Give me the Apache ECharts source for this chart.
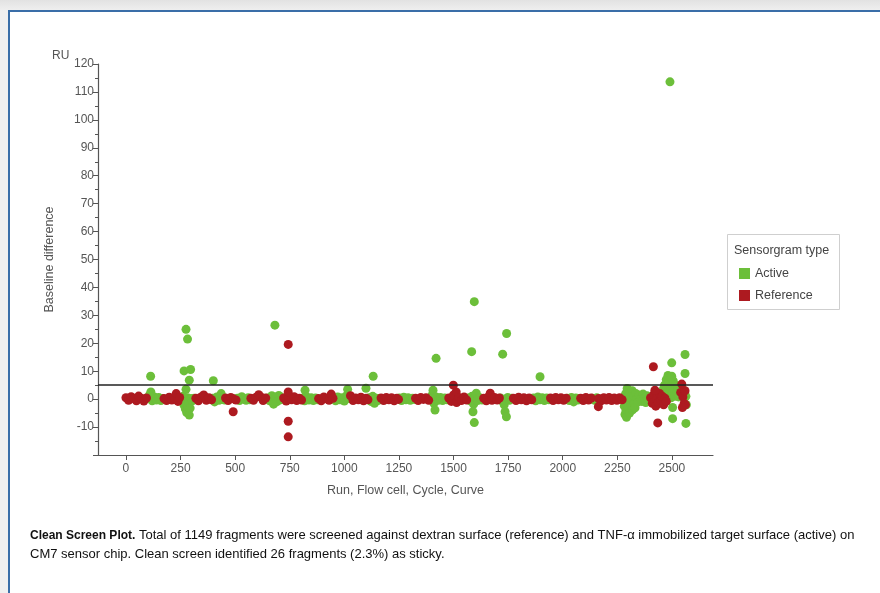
<!DOCTYPE html>
<html>
<head>
<meta charset="utf-8">
<title>Clean Screen Plot</title>
<script src="https://cdn.jsdelivr.net/npm/echarts@6/dist/echarts.min.js"></script>
<style>
  html, body { margin: 0; padding: 0; }
  body {
    width: 880px; height: 593px; overflow: hidden; position: relative;
    background: linear-gradient(180deg, #e2e2e2 0px, #f0f0f0 11px, #f0f0f0 100%);
  }
  #frame {
    position: absolute; left: 8px; top: 10px; width: 900px; height: 620px;
    background: #fff; border: 2px solid #3a6ea8;
  }
  #chart { position: absolute; left: 0; top: 0; width: 880px; height: 593px; }
</style>
</head>
<body>
<div id="frame"></div>
<div id="chart"></div>
<script>
// series names
const seriesNames = ["Active", "Reference"];

// x axis tick values (Run, Flow cell, Cycle, Curve)
const xTicks = [0, 250, 500, 750, 1000, 1250, 1500, 1750, 2000, 2250, 2500];

// threshold line (RU)
const thresholdValue = 5;

// Active flow cell: baseline band around 0
const activeBand = [
  [98, 0.4], [108, 1.5], [114, 2.6], [120, -0.6], [130, 0.8], [140, -0.3], [150, 0.6], [160, -0.5], [168, 0.2],
  [250, 0.5], [258, -0.8], [262, 1.0], [266, -2.2], [270, 0.3], [272, -3.5], [276, -1.5], [278, -4.8], [282, 0.5],
  [284, -2.8], [288, -1.0], [290, -5.7], [294, -3.2], [298, 0.2], [304, -0.6], [312, 0.3],
  [396, 0.3], [406, -1.0], [416, 0.8], [426, -0.4], [436, 2.0], [444, 0.5], [452, -0.3],
  [510, 0.3], [520, -0.5], [530, 0.9], [540, 0.1], [550, -0.4], [560, 0.5], [566, -0.2],
  [648, 0.4], [658, -0.6], [668, 1.2], [676, -1.8], [684, 0.7], [692, -0.9], [700, 1.3], [708, -0.2], [716, 0.5],
  [808, 0.3], [818, -0.6], [820, 3.2], [828, 0.8], [838, -0.3], [848, 0.5], [858, -0.5], [868, 0.4], [876, -0.2],
  [950, 0.4], [960, -0.6], [970, 0.8], [980, -0.2], [990, 0.5], [1000, -0.7], [1010, 1.2], [1015, 3.5], [1022, 0.2],
  [1114, 0.5], [1122, -0.8], [1130, 1.0], [1138, -1.5], [1146, 0.3], [1154, -0.5], [1162, 0.2],
  [1252, 0.4], [1262, -0.5], [1272, 0.7], [1282, -0.2], [1292, 0.5], [1302, -0.4], [1312, 0.3], [1320, -0.1],
  [1394, 0.3], [1402, 1.5], [1406, 3.2], [1410, -1.5], [1415, -3.9], [1420, 0.8], [1430, -0.4], [1440, 0.6],
  [1450, -0.5], [1460, 0.4], [1470, -0.2],
  [1567, 0.4], [1576, -0.6], [1584, 1.0], [1589, -4.5], [1592, -1.8], [1598, 0.6], [1604, 2.1], [1610, -0.5],
  [1620, 0.5], [1630, -0.3],
  [1715, 0.4], [1724, -0.7], [1732, -2.0], [1736, -4.5], [1742, -6.3], [1748, 0.6], [1756, -0.4], [1766, 0.3],
  [1866, 0.4], [1876, -0.6], [1886, 0.8], [1896, -0.2], [1906, 0.5], [1916, -0.5], [1926, 0.4], [1936, -0.2],
  [2021, 0.3], [2030, -0.5], [2040, 0.6], [2050, -1.0], [2060, 0.4], [2070, -0.3], [2077, 0.2],
  [2136, 0.3], [2146, -0.4], [2156, 0.5],
  [2278, 0.5], [2282, -2.5], [2285, -5.5], [2288, 2.0], [2290, -4.0], [2292, -6.5], [2295, 3.8], [2298, -1.0],
  [2300, -3.0], [2303, 1.2], [2306, -5.0], [2308, 2.6], [2312, -2.0], [2315, 0.0], [2318, 3.0], [2320, -3.8],
  [2325, 1.0], [2328, -1.5], [2331, -3.1], [2335, 2.0], [2340, 0.2], [2345, -1.0], [2350, 1.5], [2356, 0.0],
  [2362, -0.8], [2368, 1.8], [2374, 0.3], [2380, -1.2], [2386, 1.2], [2392, -0.3], [2398, 0.8], [2404, -0.6],
  [2456, 1.5], [2460, 3.5], [2464, 0.5], [2466, 5.0], [2470, 2.0], [2474, 7.0], [2476, -0.5], [2478, 4.0],
  [2482, 8.5], [2484, 1.5], [2488, 6.0], [2490, 3.0], [2494, 8.0], [2496, 0.5], [2500, 5.0], [2502, 2.0],
  [2506, 6.5], [2510, 3.5], [2514, 1.0], [2518, 5.0], [2522, 2.5], [2526, 4.0], [2530, 0.8], [2535, 3.0],
  [2540, 1.5], [2546, 4.0], [2552, 0.5], [2558, 2.5], [2564, 1.0], [2566, -2.0]
];

// Active flow cell: sticky / outlying responses
const activeOutliers = [
  [113, 8.2], [275, 25.0], [282, 21.5], [266, 10.1], [296, 10.6], [290, 6.8], [275, 3.5], [400, 6.6],
  [682, 26.5], [1099, 3.9], [1132, 8.2], [1420, 14.6], [1595, 34.9], [1583, 17.0], [1595, -8.4],
  [1725, 16.1], [1743, 23.5], [1896, 8.0], [2491, 113.6], [2499, 13.0], [2499, 8.2], [2503, -3.0],
  [2503, -7.0], [2560, 16.0], [2560, 9.2], [2564, -8.7]
];

// Reference flow cell: baseline band around 0
const referenceBand = [
  [0, 0.5], [12, -0.4], [24, 0.9], [36, 0.2], [48, -0.6], [58, 1.1], [70, 0.3], [82, -0.7], [94, 0.4],
  [174, 0.2], [186, -0.5], [198, 0.7], [210, -0.3], [222, 0.4], [230, 2.0], [238, -0.8], [246, 0.6],
  [320, 0.3], [332, -0.6], [344, 0.8], [356, 1.5], [368, -0.4], [380, 0.5], [392, -0.2],
  [456, 0.4], [468, -0.5], [480, 0.6], [492, 0.1], [504, -0.3],
  [572, 0.3], [584, -0.4], [596, 0.7], [608, 1.6], [616, 0.9], [628, -0.5], [640, 0.4],
  [722, 0.4], [734, -0.7], [746, 0.6], [758, -0.2], [770, 0.9], [782, -0.5], [794, 0.3], [804, -0.3],
  [882, 0.2], [894, -0.6], [906, 0.8], [918, 0.1], [930, -0.4], [940, 1.8], [948, 0.3],
  [1028, 1.2], [1040, -0.5], [1052, 0.4], [1064, -0.2], [1076, 0.7], [1088, -0.6], [1100, 0.3], [1108, -0.2],
  [1168, 0.4], [1180, -0.5], [1192, 0.6], [1204, -0.2], [1216, 0.5], [1228, -0.6], [1240, 0.3], [1248, -0.1],
  [1326, 0.3], [1338, -0.5], [1350, 0.6], [1362, -0.1], [1374, 0.5], [1386, -0.4],
  [1478, 0.4], [1490, -0.8], [1500, 1.5], [1512, 2.6], [1514, -1.2], [1524, 0.6], [1536, -0.5], [1548, 0.8], [1560, -0.3],
  [1638, 0.3], [1650, -0.6], [1662, 1.0], [1668, 2.1], [1676, -0.4], [1688, 0.6], [1700, -0.3], [1710, 0.4],
  [1774, 0.3], [1786, -0.5], [1798, 0.7], [1810, -0.2], [1822, 0.5], [1834, -0.6], [1846, 0.4], [1858, -0.2],
  [1944, 0.4], [1956, -0.5], [1968, 0.6], [1980, -0.2], [1992, 0.5], [2004, -0.4], [2016, 0.3],
  [2082, 0.3], [2094, -0.5], [2106, 0.6], [2118, -0.3], [2130, 0.4],
  [2164, 0.2], [2176, -0.6], [2188, 0.5], [2200, -0.3], [2212, 0.6], [2224, -0.5], [2236, 0.4], [2248, -0.4],
  [2260, 0.5], [2272, -0.2],
  [2402, 0.5], [2410, -1.5], [2418, 1.8], [2426, -2.5], [2430, 0.2], [2438, -1.2], [2444, 2.0], [2450, -0.5],
  [2456, 1.0], [2462, -2.0], [2468, 0.3], [2474, -0.8],
  [2540, 2.4], [2550, 0.8], [2556, -1.5], [2560, 3.0], [2562, -2.0]
];

// Reference flow cell: outlying responses
const referenceOutliers = [
  [491, -4.5], [743, 19.6], [743, 2.6], [743, -7.9], [743, -13.5], [1499, 5.0], [2163, -2.7],
  [2415, 11.6], [2422, 3.2], [2435, -8.5], [2545, 5.4], [2548, -3.0]
];

const caption1 = "Total of 1149 fragments were screened against dextran surface (reference) and TNF-\u03b1 immobilized target surface (active) on";
const caption2 = "CM7 sensor chip. Clean screen identified 26 fragments (2.3%) as sticky.";

const chart = echarts.init(document.getElementById("chart"), null, { renderer: "canvas" });
const axisFont = "Liberation Sans";
const axisColor = "#555";
const activeColor = "#6cbf3a";
const referenceColor = "#ad1a20";

const option = {
  backgroundColor: "transparent",
  animation: false,
  textStyle: { fontFamily: axisFont },
  grid: { left: 98, right: 167, top: 64, bottom: 138 },
  legend: {
    data: seriesNames,
    orient: "vertical",
    left: 734,
    top: 262,
    icon: "rect",
    itemWidth: 11,
    itemHeight: 11,
    itemGap: 9,
    textStyle: { color: "#444", fontSize: 12.5, fontFamily: axisFont },
  },
  xAxis: {
    type: "value",
    min: -128,
    max: 2688,
    name: "Run, Flow cell, Cycle, Curve",
    nameLocation: "middle",
    nameGap: 29,
    nameTextStyle: { color: axisColor, fontSize: 12.5 },
    axisLine: { onZero: false, lineStyle: { color: axisColor, width: 1.2 } },
    axisTick: { customValues: xTicks, length: 5, lineStyle: { color: axisColor } },
    axisLabel: {
      customValues: xTicks,
      color: axisColor,
      fontSize: 12,
      margin: 8,
      formatter: (v) => String(v),
    },
    splitLine: { show: false },
  },
  yAxis: {
    type: "value",
    min: -20,
    max: 120,
    interval: 10,
    name: "Baseline difference",
    nameLocation: "middle",
    nameRotate: 90,
    nameGap: 42,
    nameTextStyle: { color: axisColor, fontSize: 12.5 },
    axisLine: { show: true, onZero: false, lineStyle: { color: axisColor, width: 1.2 } },
    axisTick: { show: true, length: 5, lineStyle: { color: axisColor } },
    minorTick: { show: true, splitNumber: 2, length: 3, lineStyle: { color: axisColor } },
    axisLabel: {
      color: axisColor,
      fontSize: 12,
      margin: 4,
      formatter: (v) => (v === -20 ? "" : String(v)),
    },
    splitLine: { show: false },
  },
  graphic: [
    { type: "text", left: 52, top: 50, style: { text: "RU", fill: axisColor, font: "12px Liberation Sans" } },
    { type: "rect", shape: { x: 727.5, y: 234.5, width: 112, height: 75 }, style: { fill: "none", stroke: "#cfcfcf", lineWidth: 1 } },
    { type: "text", left: 734, top: 244, style: { text: "Sensorgram type", fill: "#444", font: "12.5px Liberation Sans" } },
    {
      type: "text",
      left: 30,
      top: 526,
      style: {
        text: "{b|Clean Screen Plot.} " + caption1 + "\n" + caption2,
        fill: "#111",
        font: "13px Liberation Sans",
        lineHeight: 19,
        rich: { b: { fontWeight: "bold", font: "bold 13px Liberation Sans", fill: "#111" } },
      },
    },
  ],
  series: [
    {
      name: "Active",
      type: "scatter",
      symbolSize: 9,
      itemStyle: { color: activeColor, opacity: 1 },
      data: activeBand.concat(activeOutliers),
      markLine: {
        silent: true,
        symbol: "none",
        label: { show: false },
        lineStyle: { color: "#222", width: 1.5, type: "solid" },
        data: [{ yAxis: thresholdValue }],
      },
    },
    {
      name: "Reference",
      type: "scatter",
      symbolSize: 9,
      itemStyle: { color: referenceColor, opacity: 1 },
      data: referenceBand.concat(referenceOutliers),
    },
  ],
};

chart.setOption(option);
</script>
</body>
</html>
